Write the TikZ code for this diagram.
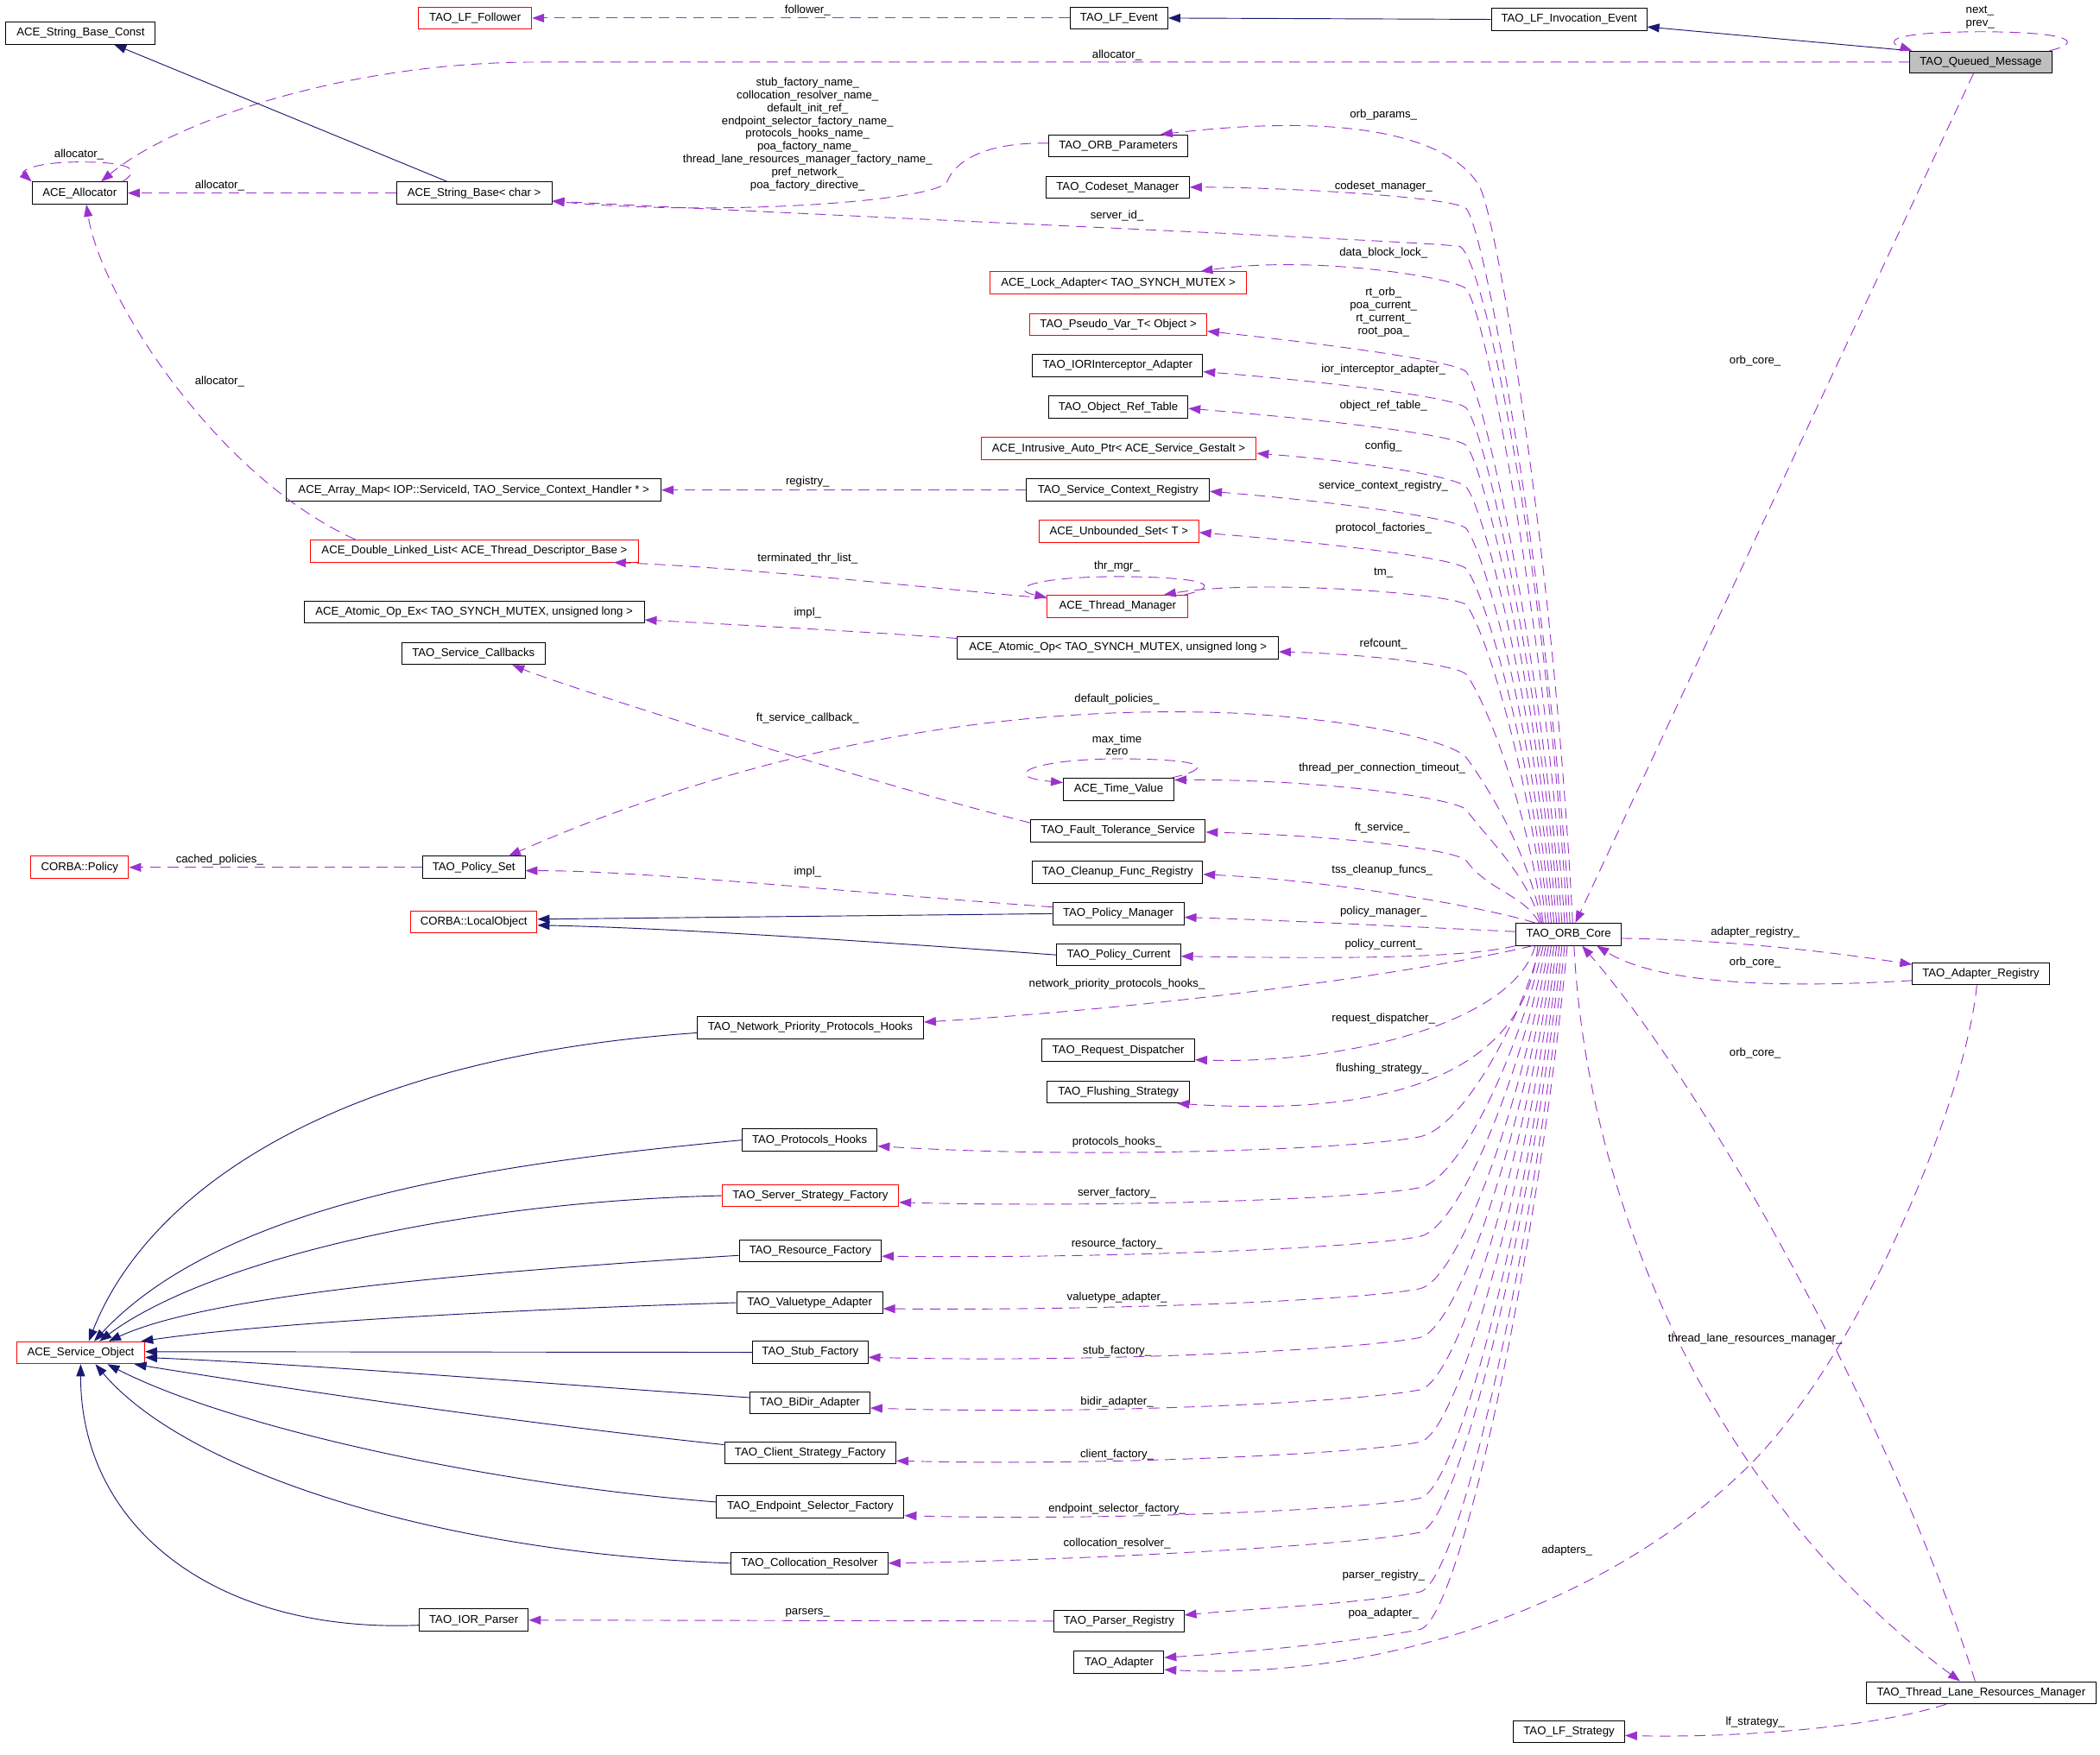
\documentclass[tikz,border=0pt]{standalone}
\usepackage{fontspec}
\newfontfamily\dxsans{Liberation Sans}
\usetikzlibrary{arrows.meta}
\newcommand{\dxfont}{\dxsans\fontsize{8.5}{9.55}\selectfont}
\definecolor{navyc}{RGB}{25,25,112}
\definecolor{purp}{RGB}{154,50,205}
\definecolor{qmgray}{RGB}{191,191,191}
\begin{document}
\begin{tikzpicture}[x=1pt,y=-1pt,
  cls/.style={draw=black, fill=white, line width=0.65pt, minimum height=16.5pt, inner sep=0pt, font=\dxfont},
  clsred/.style={cls, draw=red},
  inh/.style={draw=navyc, line width=0.6pt, -{Triangle[length=9pt,width=6.5pt]}},
  use/.style={draw=purp, line width=0.6pt, dash pattern=on 8pt off 5pt, -{Triangle[length=9pt,width=6.5pt]}},
  lab/.style={font=\dxfont, inner sep=0pt, text height=6.2pt, text depth=1.8pt},
  mlab/.style={font=\dxfont, inner sep=0pt, align=center}
]
\useasboundingbox (0,0) rectangle (1568,1310.7);

% ---------- classes ----------
\node[cls, minimum width=111.5pt] (sbc) at (60.25,24.7) {ACE\_String\_Base\_Const};
\node[clsred, minimum width=84.5pt] (lff) at (354.75,13.5) {TAO\_LF\_Follower};
\node[cls, minimum width=73pt] (lfe) at (835.5,13.5) {TAO\_LF\_Event};
\node[cls, minimum width=116pt] (lfie) at (1171.6,14.5) {TAO\_LF\_Invocation\_Event};
\node[cls, fill=qmgray, minimum width=106pt] (qm) at (1479,46.4) {TAO\_Queued\_Message};
\node[cls, minimum width=71pt] (alloc) at (59.5,144.2) {ACE\_Allocator};
\node[cls, minimum width=116pt] (sb) at (354,144.2) {ACE\_String\_Base< char >};
\node[cls, minimum width=104pt] (orbp) at (835,109) {TAO\_ORB\_Parameters};
\node[cls, minimum width=107pt] (csm) at (834.5,139.8) {TAO\_Codeset\_Manager};
\node[clsred, minimum width=191pt] (lock) at (835,211.25) {ACE\_Lock\_Adapter< TAO\_SYNCH\_MUTEX >};
\node[clsred, minimum width=132pt] (pvt) at (835,242.3) {TAO\_Pseudo\_Var\_T< Object >};
\node[cls, minimum width=127pt] (ior) at (834.5,273.1) {TAO\_IORInterceptor\_Adapter};
\node[cls, minimum width=104pt] (ort) at (835,304.1) {TAO\_Object\_Ref\_Table};
\node[clsred, minimum width=205.5pt] (iap) at (835.25,335.1) {ACE\_Intrusive\_Auto\_Ptr< ACE\_Service\_Gestalt >};
\node[cls, minimum width=136.5pt] (scr) at (834.75,366) {TAO\_Service\_Context\_Registry};
\node[cls, minimum width=279.5pt] (am) at (353.75,366) {ACE\_Array\_Map< IOP::ServiceId, TAO\_Service\_Context\_Handler * >};
\node[clsred, minimum width=119pt] (us) at (835.5,397) {ACE\_Unbounded\_Set< T >};
\node[clsred, minimum width=244.5pt] (dll) at (354.25,411.5) {ACE\_Double\_Linked\_List< ACE\_Thread\_Descriptor\_Base >};
\node[clsred, minimum width=105pt] (tmgr) at (834.5,452.8) {ACE\_Thread\_Manager};
\node[cls, minimum width=254pt] (aoe) at (354,457) {ACE\_Atomic\_Op\_Ex< TAO\_SYNCH\_MUTEX, unsigned long >};
\node[cls, minimum width=239.5pt] (ao) at (834.75,483.8) {ACE\_Atomic\_Op< TAO\_SYNCH\_MUTEX, unsigned long >};
\node[cls, minimum width=107pt] (scb) at (353.5,488) {TAO\_Service\_Callbacks};
\node[cls, minimum width=82.5pt] (tv) at (835.25,589.5) {ACE\_Time\_Value};
\node[cls, minimum width=130.5pt] (fts) at (834.75,620.5) {TAO\_Fault\_Tolerance\_Service};
\node[clsred, minimum width=73pt] (pol) at (59.5,647.8) {CORBA::Policy};
\node[cls, minimum width=76.5pt] (ps) at (353.75,647.8) {TAO\_Policy\_Set};
\node[cls, minimum width=127pt] (cfr) at (834.5,651.5) {TAO\_Cleanup\_Func\_Registry};
\node[clsred, minimum width=94.5pt] (lo) at (353.75,688.5) {CORBA::LocalObject};
\node[cls, minimum width=98pt] (pm) at (835,682.4) {TAO\_Policy\_Manager};
\node[cls, minimum width=78.5pt] (core) at (1171.25,697.8) {TAO\_ORB\_Core};
\node[cls, minimum width=92.5pt] (pc) at (835.25,713.2) {TAO\_Policy\_Current};
\node[cls, minimum width=102pt] (ar) at (1479,727.3) {TAO\_Adapter\_Registry};
\node[cls, minimum width=169pt] (nph) at (605,767.4) {TAO\_Network\_Priority\_Protocols\_Hooks};
\node[cls, minimum width=114pt] (rd) at (835,784.5) {TAO\_Request\_Dispatcher};
\node[cls, minimum width=106pt] (fs) at (835,815.5) {TAO\_Flushing\_Strategy};
\node[cls, minimum width=101pt] (ph) at (604.5,851.5) {TAO\_Protocols\_Hooks};
\node[clsred, minimum width=132pt] (ssf) at (605,893) {TAO\_Server\_Strategy\_Factory};
\node[cls, minimum width=106pt] (rf) at (605,934.2) {TAO\_Resource\_Factory};
\node[cls, minimum width=109pt] (va) at (604.5,972.9) {TAO\_Valuetype\_Adapter};
\node[clsred, minimum width=95.5pt] (so) at (60.25,1010.3) {ACE\_Service\_Object};
\node[cls, minimum width=86pt] (sf) at (605,1010) {TAO\_Stub\_Factory};
\node[cls, minimum width=89.5pt] (bd) at (604.75,1047.8) {TAO\_BiDir\_Adapter};
\node[cls, minimum width=128pt] (csf) at (605,1085) {TAO\_Client\_Strategy\_Factory};
\node[cls, minimum width=140pt] (esf) at (605,1125.4) {TAO\_Endpoint\_Selector\_Factory};
\node[cls, minimum width=117pt] (cr) at (604.5,1167.5) {TAO\_Collocation\_Resolver};
\node[cls, minimum width=81.5pt] (iorp) at (353.75,1210) {TAO\_IOR\_Parser};
\node[cls, minimum width=97pt] (prg) at (835.5,1210.7) {TAO\_Parser\_Registry};
\node[cls, minimum width=67pt] (ad) at (835.5,1241.6) {TAO\_Adapter};
\node[cls, minimum width=171.5pt] (tlrm) at (1479.25,1264.2) {TAO\_Thread\_Lane\_Resources\_Manager};
\node[cls, minimum width=83pt] (lfs) at (1171.5,1293.2) {TAO\_LF\_Strategy};

% ---------- inheritance ----------
\draw[inh] ([xshift=-20pt]sb.north) -- ([xshift=25pt]sbc.south);
\draw[inh] (lfie.west) -- (lfe.east);
\draw[inh] (qm.north west) -- ([yshift=3pt]lfie.south east);
\draw[inh] (pm.west) -- ([yshift=2pt]lo.east);
\draw[inh] (pc.west) .. controls (650,703) and (500,693) .. ([yshift=-2.5pt]lo.east);
\draw[inh] ([yshift=-4pt]nph.west) .. controls (250,790) and (110,890) .. ([xshift=6pt]so.north);
\draw[inh] (ph.west) .. controls (380,868) and (170,895) .. ([xshift=10pt]so.north);
\draw[inh] (ssf.west) .. controls (330,898) and (150,945) .. ([xshift=14pt]so.north);
\draw[inh] ([yshift=-3.4pt]rf.west) .. controls (320,952) and (150,970) .. ([xshift=21pt]so.north);
\draw[inh] (va.west) .. controls (380,978) and (200,988) .. ([xshift=-3pt]so.north east);
\draw[inh] (sf.west) -- ([yshift=0.8pt]so.east);
\draw[inh] ([yshift=4pt]bd.west) .. controls (400,1033) and (250,1020) .. ([yshift=-3.5pt]so.east);
\draw[inh] ([yshift=6pt]csf.west) .. controls (380,1062) and (200,1035) .. ([xshift=-8pt]so.south east);
\draw[inh] ([yshift=3.6pt]esf.west) .. controls (360,1108) and (170,1065) .. ([xshift=20pt]so.south);
\draw[inh] (cr.west) .. controls (330,1160) and (140,1100) .. ([xshift=11pt]so.south);
\draw[inh] ([yshift=-3.8pt]iorp.west) .. controls (160,1220) and (60,1140) .. (so.south);

% ---------- usage ----------
\draw[use] (lfe.west) -- (lff.east);
\draw[use] (qm.west) -- (400,46.4) .. controls (260,46.4) and (130,90) .. ([xshift=16pt]alloc.north);
\draw[use] ([xshift=-4pt]alloc.north east) .. controls (104,128) and (102,121) .. (60,121) .. controls (25,121) and (15,128) .. (alloc.north west);
\draw[use] (sb.west) -- (alloc.east);
\draw[use] ([xshift=-89pt]dll.north) .. controls (160,355) and (75,220) .. ([xshift=5pt]alloc.south);
\draw[use] ([yshift=2pt]orbp.west) .. controls (740,106) and (714,118) .. (707,136) .. controls (698,150) and (540,162) .. ([yshift=-6pt]sb.east);
\draw[use] ([xshift=-1pt]core.north) .. controls (1155,437) and (1110,195) .. (1090,184) .. controls (1060,180) and (700,165) .. ([yshift=-6pt]sb.east);

% top fan from ORB core
\draw[use] ([xshift=3pt]core.north) .. controls (1160,415) and (1118,165) .. (1105,140) .. controls (1092,115) and (1040,80) .. ([xshift=31.5pt]orbp.north);
\draw[use] ([xshift=1pt]core.north) .. controls (1156.8,449.4) and (1111,178) .. (1095,156) .. controls (1089,147.75) and (968,140) .. (csm.east);
\draw[use] ([xshift=-3pt]core.north) .. controls (1153.6,476.4) and (1111,238) .. (1095,216) .. controls (1089,207.75) and (980,190) .. ([xshift=61.5pt]lock.north);
\draw[use] ([xshift=-5pt]core.north) .. controls (1152,504.4) and (1111,300) .. (1095,278) .. controls (1089,269.75) and (990,257) .. ([yshift=-5pt]pvt.east);
\draw[use] ([xshift=-7pt]core.north) .. controls (1150.4,516.5) and (1111,327) .. (1095,305) .. controls (1089,296.75) and (990,285) .. ([yshift=-4.5pt]ior.east);
\draw[use] ([xshift=-9pt]core.north) .. controls (1148.8,529.1) and (1111,355) .. (1095,333) .. controls (1089,324.75) and (985,313) .. ([yshift=-1pt]ort.east);
\draw[use] ([xshift=-11pt]core.north) .. controls (1147.2,543) and (1111,386) .. (1095,364) .. controls (1089,355.75) and (1010,344) .. ([yshift=-3.5pt]iap.east);
\draw[use] ([xshift=-13pt]core.north) .. controls (1145.6,557) and (1111,417) .. (1095,395) .. controls (1089,386.75) and (990,374) .. ([yshift=-1pt]scr.east);
\draw[use] ([xshift=-15pt]core.north) .. controls (1144,570.5) and (1111,447) .. (1095,425) .. controls (1089,416.75) and (985,405) .. ([yshift=-0.7pt]us.east);
\draw[use] ([xshift=-17pt]core.north) .. controls (1142.4,582.6) and (1111,474) .. (1095,452) .. controls (1089,443.75) and (940,432) .. ([xshift=34.5pt]tmgr.north);
\draw[use] ([xshift=-19pt]core.north) .. controls (1140.8,606) and (1111,526) .. (1095,504) .. controls (1089,495.75) and (1010,488) .. ([yshift=-3pt]ao.east);
\draw[use] ([xshift=-20pt]core.north) .. controls (1140,634) and (1111,588) .. (1095,566) .. controls (1089,557.75) and (1040,540) .. (930,533) .. controls (750,524) and (560,560) .. ([xshift=26pt]ps.north);
\draw[use] ([xshift=-21pt]core.north) .. controls (1139.2,651.5) and (1111,627) .. (1095,605) .. controls (1089,596.75) and (990,582) .. ([yshift=7pt]tv.east);
\draw[use] ([xshift=-22pt]core.north) .. controls (1138.4,668.6) and (1111,665) .. (1095,643) .. controls (1089,634.75) and (1000,624) .. ([yshift=-1pt]fts.east);
\draw[use] ([xshift=-25pt]core.north) .. controls (1110,678) and (1000,658) .. ([yshift=-1.5pt]cfr.east);
\draw[use] ([xshift=-5.5pt]qm.south) -- ([xshift=5pt]core.north);

% self loops
\draw[use] ([xshift=-2pt]qm.north east) .. controls (1552,33) and (1555,24) .. (1479,23.7) .. controls (1405,24) and (1410,32) .. ([xshift=2pt]qm.north west);
\draw[use] ([xshift=-3pt]tmgr.north east) .. controls (912,438) and (905,431) .. (834,430.6) .. controls (770,431) and (752,440) .. ([yshift=-2pt]tmgr.north west);
\draw[use] ([xshift=-2pt]tv.north east) .. controls (905,574) and (905,567) .. (835,566.7) .. controls (770,567) and (745,580) .. ([yshift=5pt]tv.west);

% middle column links
\draw[use] ([yshift=6pt]tmgr.west) .. controls (700,440) and (560,424) .. ([xshift=104pt]dll.south);
\draw[use] ([yshift=7pt]ao.west) .. controls (650,472) and (540,466) .. ([yshift=-6pt]aoe.east);
\draw[use] ([yshift=6pt]fts.west) .. controls (650,585) and (420,512) .. ([xshift=29pt]scb.south);
\draw[use] ([yshift=5pt]pm.west) .. controls (650,668) and (480,650) .. ([yshift=-2.5pt]ps.east);
\draw[use] (ps.west) -- (pol.east);
\draw[use] (scr.west) -- (am.east);
\draw[use] (prg.west) -- (iorp.east);

% ORB core: left and bottom fan
\draw[use] ([yshift=2pt]core.west) .. controls (1050,692) and (950,687) .. ([yshift=-2.7pt]pm.east);
\draw[use] (core.south west) .. controls (1090,716) and (1000,716) .. ([yshift=-1pt]pc.east);
\draw[use] ([xshift=-27pt]core.south) .. controls (1080,722) and (900,750) .. ([yshift=4pt]nph.east);
\draw[use] ([xshift=-25pt]core.south) .. controls (1130,765) and (1000,795) .. ([yshift=-7pt]rd.east);
\draw[use] ([xshift=-23pt]core.south) .. controls (1140,790) and (1060,836) .. ([xshift=44pt]fs.south);
\draw[use] ([xshift=-21pt]core.south) .. controls (1132.2,770.4) and (1090,843) .. (1060,849) .. controls (1015,858) and (820,866) .. ([yshift=-4.5pt]ph.east);
\draw[use] ([xshift=-19pt]core.south) .. controls (1133.8,787.5) and (1090,881) .. (1060,887) .. controls (1015,896) and (820,902) .. ([yshift=-5pt]ssf.east);
\draw[use] ([xshift=-17pt]core.south) .. controls (1135.4,803.9) and (1090,917.5) .. (1060,923.5) .. controls (1015,932.5) and (820,940) .. ([yshift=-4pt]rf.east);
\draw[use] ([xshift=-15pt]core.south) .. controls (1137,821.4) and (1090,956.5) .. (1060,962.5) .. controls (1015,971.5) and (820,979) .. ([yshift=-4.5pt]va.east);
\draw[use] ([xshift=-13pt]core.south) .. controls (1138.6,837.9) and (1090,993) .. (1060,999) .. controls (1015,1008) and (820,1018) .. ([yshift=-3.7pt]sf.east);
\draw[use] ([xshift=-11pt]core.south) .. controls (1140.2,855.4) and (1090,1032) .. (1060,1038) .. controls (1015,1047) and (820,1057) .. ([yshift=-3.8pt]bd.east);
\draw[use] ([xshift=-9pt]core.south) .. controls (1141.8,873) and (1090,1071) .. (1060,1077) .. controls (1015,1086) and (820,1095) .. ([yshift=-6pt]csf.east);
\draw[use] ([xshift=-7pt]core.south) .. controls (1143.4,891.9) and (1090,1113) .. (1060,1119) .. controls (1015,1128) and (820,1136) .. ([yshift=-6.5pt]esf.east);
\draw[use] ([xshift=-5pt]core.south) .. controls (1145,903.3) and (1090,1138.5) .. (1060,1144.5) .. controls (1015,1153.5) and (820,1165) .. (cr.east);
\draw[use] ([xshift=-3pt]core.south) .. controls (1146.6,923.4) and (1090,1183) .. (1060,1189) .. controls (1015,1198) and (940,1201) .. ([yshift=4.5pt]prg.east);
\draw[use] ([xshift=-1pt]core.south) .. controls (1148.2,936) and (1090,1211) .. (1060,1217) .. controls (1015,1226) and (930,1234) .. ([yshift=3.6pt]ad.east);

% right side
\draw[use] ([yshift=-3pt]core.east) .. controls (1300,702) and (1380,713) .. ([yshift=7pt]ar.west);
\draw[use] ([yshift=-5pt]ar.west) .. controls (1300,740) and (1230,730) .. ([xshift=21pt]core.south);
\draw[use] ([xshift=-4.5pt]tlrm.north) .. controls (1420,1080) and (1280,820) .. ([xshift=10pt]core.south);
\draw[use] ([xshift=4pt]core.south) .. controls (1185,900) and (1280,1120) .. ([xshift=-15.75pt]tlrm.north);
\draw[use] ([xshift=-3pt]ar.south) .. controls (1468,820) and (1391,1010) .. (1306,1094.5) .. controls (1200,1200) and (1030,1255) .. ([yshift=-5.4pt]ad.east);
\draw[use] ([xshift=-26pt]tlrm.south) .. controls (1400,1290) and (1300,1298) .. ([yshift=-3pt]lfs.east);

% ---------- labels ----------
\node[lab] (l1) at (603,7.8) {follower\_};
\node[lab] (l2) at (834,41) {allocator\_};
\node[lab] (l3) at (59,115.7) {allocator\_};
\node[lab] (l4) at (164,138.8) {allocator\_};
\node[lab] (l5) at (164,285.1) {allocator\_};
\node[mlab] (l6) at (603,100.3) {stub\_factory\_name\_\\collocation\_resolver\_name\_\\default\_init\_ref\_\\endpoint\_selector\_factory\_name\_\\protocols\_hooks\_name\_\\poa\_factory\_name\_\\thread\_lane\_resources\_manager\_factory\_name\_\\pref\_network\_\\poa\_factory\_directive\_};
\node[lab] (l7) at (1033,85.6) {orb\_params\_};
\node[lab] (l8) at (1033,139.4) {codeset\_manager\_};
\node[lab] (l9) at (834,161.4) {server\_id\_};
\node[lab] (l10) at (1033,188.7) {data\_block\_lock\_};
\node[mlab] (l11) at (1033,233) {rt\_orb\_\\poa\_current\_\\rt\_current\_\\root\_poa\_};
\node[lab] (l12) at (1033,275.9) {ior\_interceptor\_adapter\_};
\node[lab] (l13) at (1033,303.2) {object\_ref\_table\_};
\node[lab] (l14) at (1033,333.1) {config\_};
\node[lab] (l15) at (1033,363.2) {service\_context\_registry\_};
\node[lab] (l16) at (603,360) {registry\_};
\node[lab] (l17) at (1033,394.6) {protocol\_factories\_};
\node[lab] (l18) at (834,423.1) {thr\_mgr\_};
\node[lab] (l19) at (1033,427.8) {tm\_};
\node[lab] (l20) at (603,417.2) {terminated\_thr\_list\_};
\node[lab] (l21) at (603,458) {impl\_};
\node[lab] (l22) at (1033,481.1) {refcount\_};
\node[lab] (l23) at (834,522.4) {default\_policies\_};
\node[lab] (l24) at (603,536.6) {ft\_service\_callback\_};
\node[mlab] (l25) at (834,556.25) {max\_time\\zero};
\node[lab] (l26) at (1032,573.9) {thread\_per\_connection\_timeout\_};
\node[lab] (l27) at (1032,618.3) {ft\_service\_};
\node[lab] (l28) at (164,641.9) {cached\_policies\_};
\node[lab] (l29) at (1032,650) {tss\_cleanup\_funcs\_};
\node[lab] (l30) at (603,651.4) {impl\_};
\node[lab] (l31) at (1033,681.2) {policy\_manager\_};
\node[lab] (l32) at (1033,705.5) {policy\_current\_};
\node[lab] (l33) at (834,735) {network\_priority\_protocols\_hooks\_};
\node[lab] (l34) at (1033,761) {request\_dispatcher\_};
\node[lab] (l35) at (1032,798.3) {flushing\_strategy\_};
\node[lab] (l36) at (834,852.9) {protocols\_hooks\_};
\node[lab] (l37) at (834,891.3) {server\_factory\_};
\node[lab] (l38) at (834,928.9) {resource\_factory\_};
\node[lab] (l39) at (834,969.1) {valuetype\_adapter\_};
\node[lab] (l40) at (834,1008.9) {stub\_factory\_};
\node[lab] (l41) at (834,1047.4) {bidir\_adapter\_};
\node[lab] (l42) at (834,1086.4) {client\_factory\_};
\node[lab] (l43) at (834,1127.1) {endpoint\_selector\_factory\_};
\node[lab] (l44) at (834,1152.7) {collocation\_resolver\_};
\node[lab] (l45) at (603,1204) {parsers\_};
\node[lab] (l46) at (1033,1176.7) {parser\_registry\_};
\node[lab] (l47) at (1033,1205.1) {poa\_adapter\_};
\node[lab] (l48) at (1170,1157.7) {adapters\_};
\node[lab] (l49) at (1310.5,696.6) {adapter\_registry\_};
\node[lab] (l50) at (1310.5,719.2) {orb\_core\_};
\node[lab] (l51) at (1310.5,786.9) {orb\_core\_};
\node[lab] (l52) at (1310.5,269.8) {orb\_core\_};
\node[lab] (l53) at (1310.5,1000) {thread\_lane\_resources\_manager\_};
\node[lab] (l54) at (1310.5,1286.5) {lf\_strategy\_};
\node[font=\dxfont, inner sep=0pt, align=left] (l55) at (1478.5,13) {next\_\\prev\_};
\end{tikzpicture}
\end{document}
